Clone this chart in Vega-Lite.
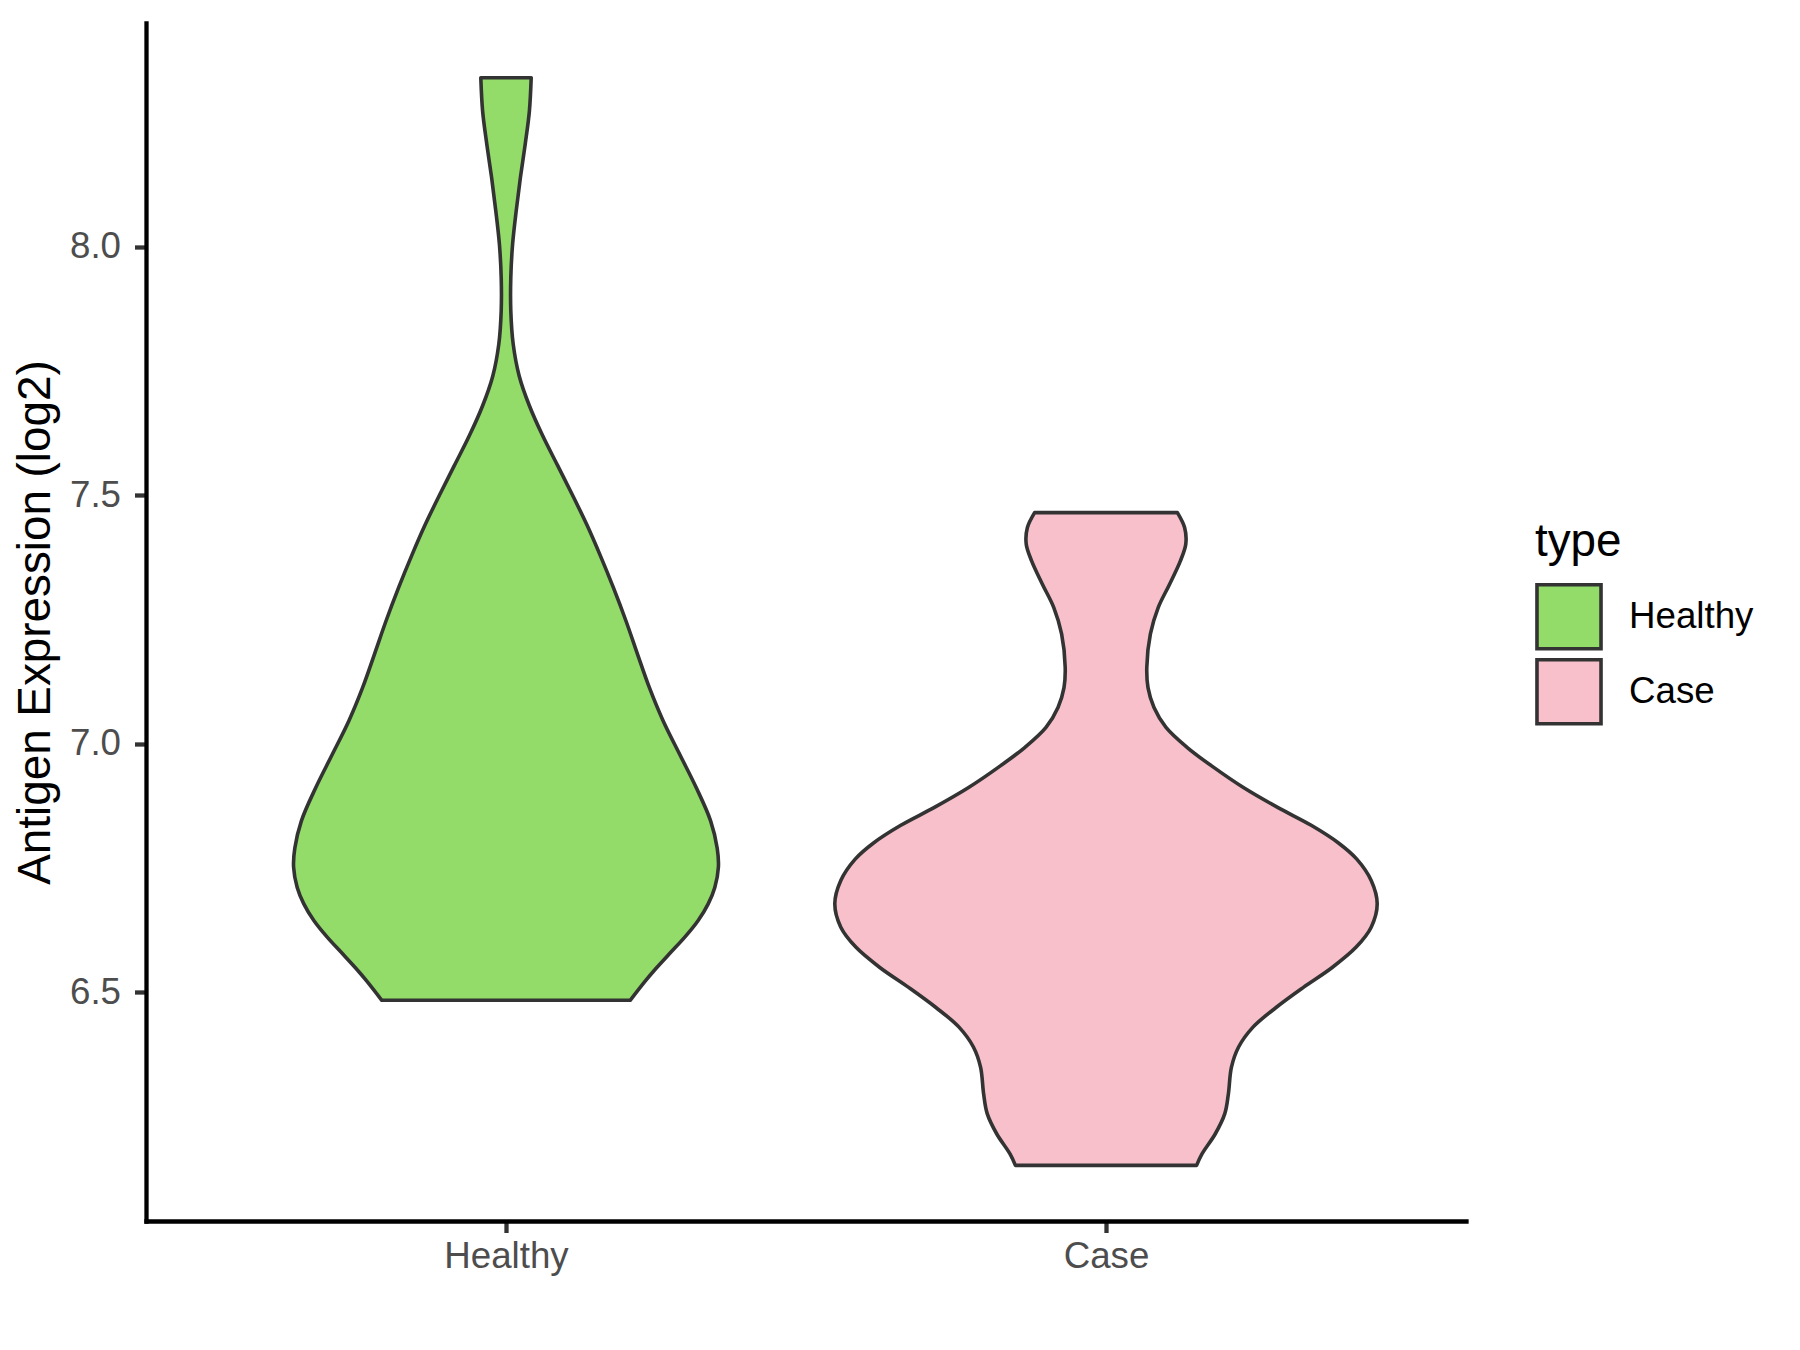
{
  "$schema": "https://vega.github.io/schema/vega-lite/v6.json",
  "autosize": "none",
  "padding": {"left": 146, "top": 23, "right": 334, "bottom": 129},
  "width": 1320,
  "height": 1198,
  "background": "white",
  "data": {"values": [
    {"type": "Healthy", "v": 6.484, "lo": 0.793, "hi": 1.207},
    {"type": "Healthy", "v": 6.524, "lo": 0.767, "hi": 1.233},
    {"type": "Healthy", "v": 6.544, "lo": 0.753, "hi": 1.247},
    {"type": "Healthy", "v": 6.577, "lo": 0.728, "hi": 1.272},
    {"type": "Healthy", "v": 6.611, "lo": 0.702, "hi": 1.298},
    {"type": "Healthy", "v": 6.644, "lo": 0.680, "hi": 1.320},
    {"type": "Healthy", "v": 6.678, "lo": 0.663, "hi": 1.337},
    {"type": "Healthy", "v": 6.711, "lo": 0.652, "hi": 1.348},
    {"type": "Healthy", "v": 6.752, "lo": 0.646, "hi": 1.354},
    {"type": "Healthy", "v": 6.790, "lo": 0.648, "hi": 1.352},
    {"type": "Healthy", "v": 6.845, "lo": 0.659, "hi": 1.341},
    {"type": "Healthy", "v": 6.912, "lo": 0.683, "hi": 1.317},
    {"type": "Healthy", "v": 6.980, "lo": 0.711, "hi": 1.289},
    {"type": "Healthy", "v": 7.046, "lo": 0.738, "hi": 1.262},
    {"type": "Healthy", "v": 7.113, "lo": 0.761, "hi": 1.239},
    {"type": "Healthy", "v": 7.181, "lo": 0.781, "hi": 1.219},
    {"type": "Healthy", "v": 7.247, "lo": 0.800, "hi": 1.200},
    {"type": "Healthy", "v": 7.314, "lo": 0.821, "hi": 1.179},
    {"type": "Healthy", "v": 7.382, "lo": 0.844, "hi": 1.156},
    {"type": "Healthy", "v": 7.440, "lo": 0.865, "hi": 1.135},
    {"type": "Healthy", "v": 7.500, "lo": 0.889, "hi": 1.111},
    {"type": "Healthy", "v": 7.560, "lo": 0.914, "hi": 1.086},
    {"type": "Healthy", "v": 7.620, "lo": 0.939, "hi": 1.061},
    {"type": "Healthy", "v": 7.680, "lo": 0.961, "hi": 1.039},
    {"type": "Healthy", "v": 7.740, "lo": 0.978, "hi": 1.022},
    {"type": "Healthy", "v": 7.804, "lo": 0.988, "hi": 1.012},
    {"type": "Healthy", "v": 7.871, "lo": 0.992, "hi": 1.008},
    {"type": "Healthy", "v": 7.938, "lo": 0.992, "hi": 1.008},
    {"type": "Healthy", "v": 8.005, "lo": 0.989, "hi": 1.011},
    {"type": "Healthy", "v": 8.072, "lo": 0.983, "hi": 1.017},
    {"type": "Healthy", "v": 8.139, "lo": 0.976, "hi": 1.024},
    {"type": "Healthy", "v": 8.206, "lo": 0.968, "hi": 1.032},
    {"type": "Healthy", "v": 8.273, "lo": 0.961, "hi": 1.039},
    {"type": "Healthy", "v": 8.340, "lo": 0.958, "hi": 1.042},
    {"type": "Case", "v": 6.152, "lo": 1.849, "hi": 2.151},
    {"type": "Case", "v": 6.175, "lo": 1.840, "hi": 2.160},
    {"type": "Case", "v": 6.215, "lo": 1.818, "hi": 2.182},
    {"type": "Case", "v": 6.256, "lo": 1.802, "hi": 2.198},
    {"type": "Case", "v": 6.296, "lo": 1.796, "hi": 2.204},
    {"type": "Case", "v": 6.349, "lo": 1.791, "hi": 2.209},
    {"type": "Case", "v": 6.390, "lo": 1.779, "hi": 2.221},
    {"type": "Case", "v": 6.430, "lo": 1.755, "hi": 2.245},
    {"type": "Case", "v": 6.470, "lo": 1.716, "hi": 2.284},
    {"type": "Case", "v": 6.510, "lo": 1.671, "hi": 2.329},
    {"type": "Case", "v": 6.550, "lo": 1.623, "hi": 2.377},
    {"type": "Case", "v": 6.591, "lo": 1.583, "hi": 2.417},
    {"type": "Case", "v": 6.631, "lo": 1.558, "hi": 2.442},
    {"type": "Case", "v": 6.678, "lo": 1.548, "hi": 2.452},
    {"type": "Case", "v": 6.725, "lo": 1.558, "hi": 2.442},
    {"type": "Case", "v": 6.768, "lo": 1.582, "hi": 2.418},
    {"type": "Case", "v": 6.800, "lo": 1.612, "hi": 2.388},
    {"type": "Case", "v": 6.836, "lo": 1.658, "hi": 2.342},
    {"type": "Case", "v": 6.872, "lo": 1.714, "hi": 2.286},
    {"type": "Case", "v": 6.912, "lo": 1.771, "hi": 2.229},
    {"type": "Case", "v": 6.953, "lo": 1.821, "hi": 2.179},
    {"type": "Case", "v": 6.993, "lo": 1.865, "hi": 2.135},
    {"type": "Case", "v": 7.033, "lo": 1.900, "hi": 2.100},
    {"type": "Case", "v": 7.073, "lo": 1.920, "hi": 2.080},
    {"type": "Case", "v": 7.113, "lo": 1.930, "hi": 2.070},
    {"type": "Case", "v": 7.154, "lo": 1.932, "hi": 2.068},
    {"type": "Case", "v": 7.221, "lo": 1.926, "hi": 2.074},
    {"type": "Case", "v": 7.274, "lo": 1.913, "hi": 2.087},
    {"type": "Case", "v": 7.321, "lo": 1.894, "hi": 2.106},
    {"type": "Case", "v": 7.368, "lo": 1.876, "hi": 2.124},
    {"type": "Case", "v": 7.402, "lo": 1.867, "hi": 2.133},
    {"type": "Case", "v": 7.435, "lo": 1.869, "hi": 2.131},
    {"type": "Case", "v": 7.465, "lo": 1.881, "hi": 2.119}
  ]},
  "mark": {
    "type": "area",
    "orient": "horizontal",
    "interpolate": "catmull-rom",
    "stroke": "#333333",
    "strokeWidth": 3.6,
    "strokeJoin": "round",
    "fillOpacity": 1
  },
  "encoding": {
    "y": {
      "field": "v",
      "type": "quantitative",
      "scale": {"domain": [6.04, 8.45], "nice": false, "zero": false},
      "axis": {
        "title": "Antigen Expression (log2)",
        "values": [6.5, 7.0, 7.5, 8.0],
        "format": ".1f",
        "labelPadding": 14,
        "titlePadding": 10
      }
    },
    "x": {
      "field": "lo",
      "type": "quantitative",
      "stack": null,
      "scale": {"domain": [0.4, 2.6], "nice": false, "zero": false},
      "axis": {
        "title": null,
        "values": [1, 2],
        "labelExpr": "datum.value == 1 ? 'Healthy' : 'Case'",
        "labelPadding": 6
      }
    },
    "x2": {"field": "hi"},
    "fill": {
      "field": "type",
      "type": "nominal",
      "scale": {"domain": ["Healthy", "Case"], "range": ["#93DC6A", "#F7C0CB"]},
      "legend": {
        "title": "type",
        "orient": "none",
        "legendX": 1389,
        "legendY": 497,
        "symbolType": "square",
        "symbolSize": 4100,
        "symbolStrokeColor": "#333333",
        "symbolStrokeWidth": 3.6,
        "symbolOpacity": 1,
        "labelOffset": 26,
        "rowPadding": -5,
        "titlePadding": 17
      }
    }
  },
  "config": {
    "font": "Liberation Sans",
    "view": {"stroke": null},
    "axis": {
      "grid": false,
      "domainColor": "#000000",
      "domainWidth": 4.3,
      "domainCap": "square",
      "tickColor": "#333333",
      "tickWidth": 4.3,
      "tickSize": 11.5,
      "labelColor": "#4D4D4D",
      "labelFontSize": 36.7,
      "labelFont": "Liberation Sans",
      "titleFont": "Liberation Sans",
      "titleFontSize": 45.8,
      "titleFontWeight": "normal",
      "titleColor": "#000000"
    },
    "legend": {
      "titleFont": "Liberation Sans",
      "labelFont": "Liberation Sans",
      "titleFontSize": 45.8,
      "titleFontWeight": "normal",
      "titleColor": "#000000",
      "labelFontSize": 36.7,
      "labelColor": "#000000"
    }
  }
}
